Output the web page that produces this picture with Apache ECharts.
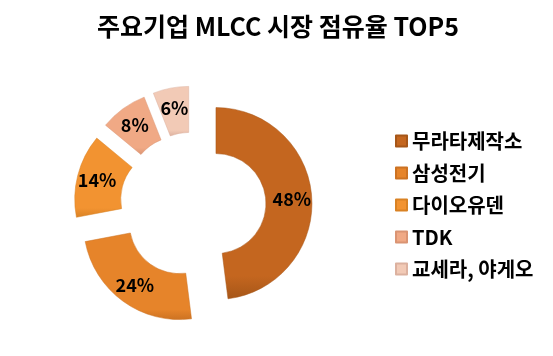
<!DOCTYPE html>
<html><head><meta charset="utf-8">
<script src="https://cdn.jsdelivr.net/npm/echarts@6/dist/echarts.min.js"></script>
<style>html,body{margin:0;padding:0;background:#fff}#c{width:553px;height:356px}</style>
</head><body><div id="c"></div>
<script>
const titleText = '주요기업 MLCC 시장 점유율 TOP5';
const categories = ['무라타제작소', '삼성전기', '다이오유덴', 'TDK', '교세라, 야게오'];
const shares = [48, 24, 14, 8, 6];
const colors = ['#c4661f', '#e6842a', '#f29331', '#f0a985', '#f2cab6'];
const edgeColors = ['#a65618', '#cc7222', '#d98224', '#da9473', '#dcb19f'];

const chart = echarts.init(document.getElementById('c'), null, {renderer: 'canvas'});
const font = '"Noto Sans CJK KR", "Noto Sans", sans-serif';
chart.setOption({
  animation: false,
  title: {
    text: titleText, left: 278, textAlign: 'center', top: 14, padding: 0,
    textStyle: {fontFamily: font, fontWeight: 'bold', fontSize: 25, color: '#000'}
  },
  legend: {
    orient: 'vertical', left: 395, top: 131, itemGap: 12, padding: 0,
    itemWidth: 11, itemHeight: 11, icon: 'rect',
    textStyle: {fontFamily: font, fontWeight: 'bold', fontSize: 20, color: '#000'},
    data: categories
  },
  series: [{
    type: 'pie',
    center: [193, 205],
    radius: [50, 96],
    startAngle: 90,
    clockwise: true,
    selectedMode: 'multiple',
    selectedOffset: 23,
    avoidLabelOverlap: false,
    label: {
      show: true, position: 'inside',
      formatter: p => p.value + '%',
      fontFamily: font, fontWeight: 'bold', fontSize: 18, color: '#000'
    },
    labelLine: {show: false},
    emphasis: {disabled: true},
    data: categories.map((name, i) => ({
      name, value: shares[i], selected: true,
      itemStyle: {
        color: new echarts.graphic.LinearGradient(0, 0, 0, 1, [
          {offset: 0, color: colors[i]},
          {offset: 0.88, color: colors[i]},
          {offset: 1, color: edgeColors[i]}
        ]),
        borderColor: edgeColors[i], borderWidth: 0.5
      }
    }))
  }]
});
</script></body></html>
